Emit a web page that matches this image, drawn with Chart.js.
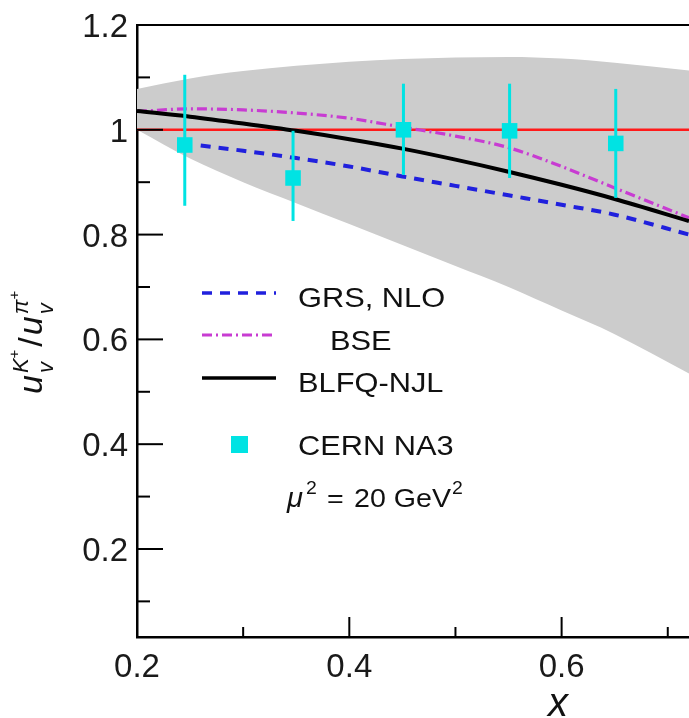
<!DOCTYPE html>
<html><head><meta charset="utf-8">
<script src="https://cdn.jsdelivr.net/npm/chart.js@4/dist/chart.umd.min.js"></script>
<style>html,body{margin:0;padding:0;background:#fff}#wrap{width:689px;height:718px}</style>
</head><body><div id="wrap"><canvas id="c" width="689" height="718"></canvas></div>
<script>
// ---- data ----
const curveX   = [0.2, 0.25, 0.3, 0.35, 0.4, 0.45, 0.5, 0.55, 0.6, 0.65, 0.72];
const bandUpper = [1.078, 1.098, 1.112, 1.122, 1.130, 1.135, 1.138, 1.139, 1.136, 1.128, 1.113];
const bandLower = [1.0, 0.945, 0.9, 0.86, 0.82, 0.78, 0.74, 0.70, 0.655, 0.61, 0.535];
const blfqY    = [1.036, 1.025, 1.012, 0.998, 0.982, 0.964, 0.943, 0.92, 0.895, 0.868, 0.826];
const bseY     = [1.035, 1.04, 1.038, 1.032, 1.022, 1.005, 0.988, 0.966, 0.93, 0.889, 0.832];
const grsX     = [0.26, 0.3, 0.35, 0.4, 0.45, 0.5, 0.55, 0.6, 0.65, 0.72];
const grsY     = [0.97, 0.96, 0.946, 0.93, 0.911, 0.893, 0.875, 0.857, 0.838, 0.80];
const refX     = [0.2, 0.72];
const refY     = [1, 1];
const na3X     = [0.245, 0.347, 0.451, 0.551, 0.651];
const na3Y     = [0.971, 0.908, 1.0, 0.998, 0.974];
const na3Lo    = [0.855, 0.826, 0.914, 0.908, 0.870];
const na3Hi    = [1.105, 0.998, 1.088, 1.088, 1.078];
const xTicks   = [0.2, 0.4, 0.6];
const xTickLabels = ['0.2', '0.4', '0.6'];
const xMinor   = [0.3, 0.5, 0.7];
const yTicks   = [0.2, 0.4, 0.6, 0.8, 1.0, 1.2];
const yTickLabels = ['0.2', '0.4', '0.6', '0.8', '1', '1.2'];
const yMinor   = [0.1, 0.3, 0.5, 0.7, 0.9, 1.1];
const legendLabels = ['GRS, NLO', 'BSE', 'BLFQ-NJL', 'CERN NA3'];

const FONT = '"Liberation Sans", Arial, Helvetica, sans-serif';
const CYAN = '#00e3e3', BLUE = '#2020dd', MAG = '#c83cd2', RED = '#ff1a1a', GRAY = '#cccccc';
const pts = (xs, ys) => xs.map((x, i) => ({x, y: ys[i]}));

function stretchText(ctx, txt, x, y, sx) {
  ctx.save(); ctx.translate(x, y); ctx.scale(sx, 1); ctx.fillText(txt, 0, 0);
  const w = ctx.measureText(txt).width * sx; ctx.restore(); return w;
}
function zeroPad(s) { s.paddingLeft = 0; s.paddingRight = 0; s.paddingTop = 0; s.paddingBottom = 0; }

const deco = {
  id: 'deco',
  afterDatasetsDraw(chart) {
    const ctx = chart.ctx, xs = chart.scales.x, ys = chart.scales.y;
    ctx.save();
    ctx.strokeStyle = CYAN; ctx.lineWidth = 3;
    na3X.forEach((x, i) => {
      const px = xs.getPixelForValue(x);
      ctx.beginPath();
      ctx.moveTo(px, ys.getPixelForValue(na3Lo[i]));
      ctx.lineTo(px, ys.getPixelForValue(na3Hi[i]));
      ctx.stroke();
    });
    ctx.restore();
  },
  afterDraw(chart) {
    const ctx = chart.ctx, xs = chart.scales.x, ys = chart.scales.y, ca = chart.chartArea;
    ctx.save();
    ctx.strokeStyle = '#000'; ctx.lineWidth = 2;
    // top frame
    ctx.beginPath(); ctx.moveTo(ca.left, ca.top); ctx.lineTo(ca.right, ca.top); ctx.stroke();
    // inward ticks
    const yt = (v, len) => { const p = ys.getPixelForValue(v); ctx.beginPath(); ctx.moveTo(ca.left, p); ctx.lineTo(ca.left + len, p); ctx.stroke(); };
    const xt = (v, len) => { const p = xs.getPixelForValue(v); ctx.beginPath(); ctx.moveTo(p, ca.bottom); ctx.lineTo(p, ca.bottom - len); ctx.stroke(); };
    yTicks.forEach(v => yt(v, 26)); yMinor.forEach(v => yt(v, 13));
    xTicks.forEach(v => xt(v, 20)); xMinor.forEach(v => xt(v, 10));

    // legend
    const lx0 = 202, lx1 = 276;
    const line = (y, color, dash, w) => { ctx.save(); ctx.strokeStyle = color; ctx.lineWidth = w; ctx.setLineDash(dash); ctx.beginPath(); ctx.moveTo(lx0, y); ctx.lineTo(lx1, y); ctx.stroke(); ctx.restore(); };
    line(293, BLUE, [10, 8], 3.5);
    line(335, MAG, [10, 4, 2, 4], 3);
    line(378, '#000', [], 3.5);
    ctx.fillStyle = CYAN; ctx.fillRect(231, 436, 17, 17);
    ctx.fillStyle = '#111'; ctx.font = '28px ' + FONT; ctx.textBaseline = 'alphabetic'; ctx.textAlign = 'left';
    stretchText(ctx, legendLabels[0], 298, 307, 1.1);
    stretchText(ctx, legendLabels[1], 330, 350, 1.1);
    stretchText(ctx, legendLabels[2], 298, 392, 1.1);
    stretchText(ctx, legendLabels[3], 298, 455, 1.1);
    // mu^2 = 20 GeV^2
    ctx.font = 'italic 27px ' + FONT; stretchText(ctx, 'μ', 287, 507, 1.08);
    ctx.font = '18px ' + FONT; stretchText(ctx, '2', 306, 494, 1.08);
    ctx.font = '26px ' + FONT;
    stretchText(ctx, '=', 327, 507, 1.1);
    let x = 354 + stretchText(ctx, '20 GeV', 354, 507, 1.1);
    ctx.font = '18px ' + FONT; stretchText(ctx, '2', x + 1, 494, 1.08);

    // x title
    ctx.font = 'italic 40px ' + FONT; ctx.textAlign = 'center';
    ctx.fillText('x', 558, 716);
    ctx.textAlign = 'left';

    // y title (rotated)
    ctx.translate(42, 394); ctx.rotate(-Math.PI / 2);
    let t = 0;
    const main = 'italic 34px ' + FONT, sm = 'italic 22px ' + FONT, tiny = '15px ' + FONT;
    ctx.font = main; ctx.fillText('u', t, 0); t += ctx.measureText('u').width + 2;
    ctx.font = sm; ctx.fillText('v', t, 11); let w1 = ctx.measureText('v').width;
    ctx.fillText('K', t, -14); let w2 = ctx.measureText('K').width;
    ctx.font = tiny; ctx.fillText('+', t + w2, -23); w2 += ctx.measureText('+').width;
    t += Math.max(w1, w2) + 3;
    ctx.font = '34px ' + FONT; ctx.fillText('/', t, 0); t += ctx.measureText('/').width + 2;
    ctx.font = main; ctx.fillText('u', t, 0); t += ctx.measureText('u').width + 2;
    ctx.font = sm; ctx.fillText('v', t, 11); w1 = ctx.measureText('v').width;
    ctx.fillText('π', t, -14); w2 = ctx.measureText('π').width;
    ctx.font = tiny; ctx.fillText('+', t + w2, -23);
    ctx.restore();
  }
};

new Chart(document.getElementById('c'), {
  type: 'line',
  data: {
    datasets: [
      { label: 'NA3', type: 'scatter', data: pts(na3X, na3Y), pointStyle: 'rect', pointRadius: 11, pointHoverRadius: 11,
        backgroundColor: CYAN, borderWidth: 0, order: 0 },
      { label: 'BLFQ-NJL', data: pts(curveX, blfqY), borderColor: '#000', borderWidth: 4, pointRadius: 0,
        cubicInterpolationMode: 'monotone', fill: false, order: 1 },
      { label: 'BSE', data: pts(curveX, bseY), borderColor: MAG, borderWidth: 3.2, borderDash: [10, 4, 2, 4], pointRadius: 0,
        cubicInterpolationMode: 'monotone', fill: false, order: 2 },
      { label: 'GRS', data: pts(grsX, grsY), borderColor: BLUE, borderWidth: 4, borderDash: [10, 8], pointRadius: 0,
        cubicInterpolationMode: 'monotone', fill: false, order: 3 },
      { label: 'ref', data: pts(refX, refY), borderColor: RED, borderWidth: 2.5, pointRadius: 0, fill: false, order: 4 },
      { label: 'bandUpper', data: pts(curveX, bandUpper), borderWidth: 0, borderColor: 'rgba(0,0,0,0)', pointRadius: 0,
        cubicInterpolationMode: 'monotone', backgroundColor: GRAY, fill: '+1', order: 5 },
      { label: 'bandLower', data: pts(curveX, bandLower), borderWidth: 0, borderColor: 'rgba(0,0,0,0)', pointRadius: 0,
        cubicInterpolationMode: 'monotone', fill: false, order: 6 }
    ]
  },
  options: {
    responsive: false, animation: false, events: [],
    layout: { autoPadding: false, padding: { top: 25, right: 0, left: 0, bottom: 0 } },
    plugins: { legend: { display: false }, tooltip: { enabled: false } },
    scales: {
      x: {
        type: 'linear', min: 0.2, max: 0.72,
        grid: { display: false, drawTicks: false },
        border: { display: true, color: '#000', width: 2.5 },
        afterBuildTicks: s => { s.ticks = xTicks.map(v => ({value: v})); },
        afterFit: s => { s.height = 81; zeroPad(s); },
        ticks: { padding: 11, color: '#1a1a1a', font: { family: FONT, size: 33 },
          maxRotation: 0, autoSkip: false,
          callback: (v, i) => xTickLabels[i] }
      },
      y: {
        type: 'linear', min: 0.032, max: 1.2,
        grid: { display: false, drawTicks: false },
        border: { display: true, color: '#000', width: 2.5 },
        afterBuildTicks: s => { s.ticks = yTicks.map(v => ({value: v})); },
        afterFit: s => { s.width = 137; zeroPad(s); },
        ticks: { padding: 9, color: '#1a1a1a', font: { family: FONT, size: 33 }, labelOffset: 3,
          autoSkip: false, callback: (v, i) => yTickLabels[i] }
      }
    }
  },
  plugins: [deco]
});
</script>
</body></html>
